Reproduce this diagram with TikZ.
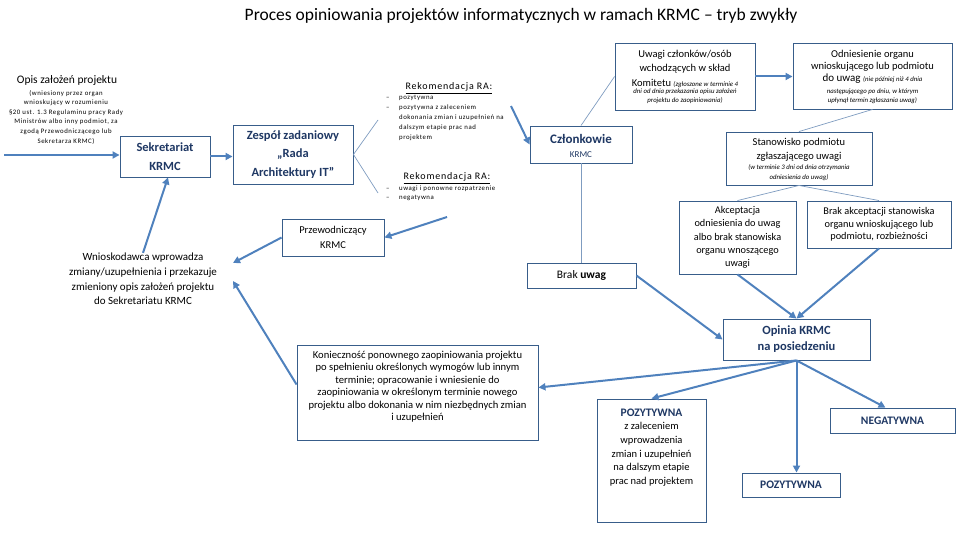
\documentclass[tikz,border=0pt]{standalone}
\usepackage{fontspec}
\setmainfont{Carlito}
\newfontfamily\spaced[LetterSpace=8]{Carlito}
\usetikzlibrary{arrows.meta}
\definecolor{boxc}{HTML}{385D8A}
\definecolor{arrc}{HTML}{4F81BD}
\definecolor{thinc}{HTML}{7F9CC0}
\definecolor{navy}{HTML}{1F3864}
\newcommand{\fsz}[2]{\fontsize{#1}{#2}\selectfont}
\begin{document}
\begin{tikzpicture}[x=1pt,y=-1pt,
  box/.style={draw=boxc, line width=0.9pt, fill=white, inner sep=0pt, align=center, text=black},
  txt/.style={inner sep=0pt, align=center, text=black},
  arr/.style={draw=arrc, line width=2pt, -{Triangle[length=7pt,width=7pt]}},
  thinln/.style={draw=thinc, line width=0.7pt},
  ]
\useasboundingbox (0,0) rectangle (960,540);

% title
\node[txt, font=\fsz{17.5}{20}] (title) at (521,16) {Proces opiniowania projektów informatycznych w ramach KRMC – tryb zwykły};

% Opis
\node[txt, font=\fsz{11.5}{13}] (opis) at (67,80) {Opis założeń projektu};
\node[txt, font=\spaced\fsz{6.8}{9.6}] (opisd) at (66,117) {(wniesiony przez organ\\wnioskujący w rozumieniu\\§20 ust. 1.3 Regulaminu pracy Rady\\Ministrów albo inny podmiot, za\\zgodą Przewodniczącego lub\\Sekretarza KRMC)};
\coordinate (start) at (4,155);

% boxes
\node[box, minimum width=90pt, minimum height=41pt, text=navy, font=\bfseries\fsz{12.5}{19}] (sek) at (165,156.5) {Sekretariat\\KRMC};
\node[box, minimum width=120pt, minimum height=59pt, text=navy, font=\bfseries\fsz{12.5}{18.5}] (zes) at (293,154.5) {Zespół zadaniowy\\„Rada\\Architektury IT”};

% Rekomendacje
\coordinate (r1) at (378,120);
\coordinate (r2) at (378,193);
\node[txt, font=\spaced\fsz{10}{11}] (rk1) at (449,88) {\underline{Rekomendacja RA:}};
\node[txt, anchor=north west, align=left, font=\spaced\fsz{6.8}{9.8}] (rl1) at (386,95.5) {\makebox[13pt][l]{–}pozytywna\\\makebox[13pt][l]{–}pozytywna z zaleceniem\\\hspace*{13pt}dokonania zmian i uzupełnień na\\\hspace*{13pt}dalszym etapie prac nad\\\hspace*{13pt}projektem};
\node[txt, font=\spaced\fsz{10}{11}] (rk2) at (447,178) {\underline{Rekomendacja RA:}};
\node[txt, anchor=north west, align=left, font=\spaced\fsz{6.8}{9}] (rl2) at (386,185.5) {\makebox[13pt][l]{–}uwagi i ponowne rozpatrzenie\\\makebox[13pt][l]{–}negatywna};
\coordinate (rk1end) at (511,106);
\coordinate (rk2end) at (447,217);

% Czlonkowie
\node[box, minimum width=102pt, minimum height=37pt] (czl) at (581,144.5) {};
\node[txt, text=navy, font=\bfseries\fsz{13}{14}] (czlt) at (581,139) {Członkowie};
\node[txt, text=navy, font=\fsz{9}{11}] (czlk) at (581,155) {KRMC};

% Uwagi
\node[box, minimum width=140pt, minimum height=67pt] (uwa) at (685,76.5) {};
\node[txt, font=\fsz{10.5}{14}] (uwat) at (685,62) {Uwagi członków/osób\\wchodzących w skład};
\node[txt, font=\fsz{10.5}{12}] (uwak) at (685,83) {Komitetu {\fsz{6.8}{8}\itshape(zgłoszone w terminie 4}};
\node[txt, font=\fsz{6.8}{9}\itshape] (uwai) at (685,96.5) {dni od dnia przekazania opisu założeń\\projektu do zaopiniowania)};

% Odniesienie
\node[box, minimum width=159pt, minimum height=66pt] (odn) at (872.5,76) {};
\node[txt, font=\fsz{10.5}{12.5}] (odnt) at (872.5,61) {Odniesienie organu\\wnioskującego lub podmiotu};
\node[txt, font=\fsz{11}{12}] (odnk) at (872.5,79) {do uwag {\fsz{6.8}{8}\itshape(nie później niż 4 dnia}};
\node[txt, font=\fsz{6.8}{9}\itshape] (odni) at (872.5,96.5) {następującego po dniu, w którym\\upłynął termin zgłaszania uwag)};

% Stanowisko
\node[box, minimum width=146pt, minimum height=53pt] (sta) at (799,158.5) {};
\node[txt, font=\fsz{10.5}{14}] (stat) at (799,150) {Stanowisko podmiotu\\zgłaszającego uwagi};
\node[txt, font=\fsz{6.8}{10}\itshape] (stai) at (799,173) {(w terminie 3 dni od dnia otrzymania\\odniesienia do uwag)};

% Akceptacja / Brak akceptacji
\node[box, minimum width=117pt, minimum height=73pt, font=\fsz{10.3}{13.3}] (akc) at (737.5,237.5) {Akceptacja\\odniesienia do uwag\\albo brak stanowiska\\organu wnoszącego\\uwagi};
\node[box, minimum width=144pt, minimum height=47pt, font=\fsz{10.3}{12.6}] (bra) at (879,224.5) {Brak akceptacji stanowiska\\organu wnioskującego lub\\podmiotu, rozbieżności};

% Brak uwag
\node[box, minimum width=109pt, minimum height=25pt, font=\fsz{11.5}{13}] (bu) at (581.5,275.5) {Brak \textbf{uwag}};

% Opinia
\node[box, minimum width=147pt, minimum height=41pt, text=navy, font=\bfseries\fsz{12.5}{16}] (opi) at (796.5,339.5) {Opinia KRMC\\na posiedzeniu};

% Przewodniczacy
\node[box, minimum width=102pt, minimum height=37pt, font=\fsz{10.5}{15}] (prz) at (333,237.5) {Przewodniczący\\KRMC};

% Wnioskodawca
\node[txt, font=\fsz{11}{14.7}] (wn) at (143,279) {Wnioskodawca wprowadza\\zmiany/uzupełnienia i przekazuje\\zmieniony opis założeń projektu\\do Sekretariatu KRMC};
\coordinate (wnA) at (233,263);
\coordinate (wnB) at (233,281);

% Koniecznosc
\node[box, minimum width=241pt, minimum height=95pt] (kon) at (417.5,392.5) {};
\node[txt, font=\fsz{10.6}{12.5}] (kont) at (417.5,386.5) {Konieczność ponownego zaopiniowania projektu\\po spełnieniu określonych wymogów lub innym\\terminie; opracowanie i wniesienie do\\zaopiniowania w określonym terminie nowego\\projektu albo dokonania w nim niezbędnych zmian\\i uzupełnień};

% Outcomes
\node[box, minimum width=109pt, minimum height=123pt] (poz1) at (651.5,460.5) {};
\node[txt, text=navy, font=\bfseries\fsz{11.5}{13}] (poz1t) at (651.5,413) {POZYTYWNA};
\node[txt, font=\fsz{10.5}{13.7}] (poz1d) at (651.5,454.5) {z zaleceniem\\wprowadzenia\\zmian i uzupełnień\\na dalszym etapie\\prac nad projektem};
\node[box, minimum width=125pt, minimum height=25pt, text=navy, font=\bfseries\fsz{11.5}{13}] (neg) at (892.5,420.5) {NEGATYWNA};
\node[box, minimum width=98pt, minimum height=24pt, text=navy, font=\bfseries\fsz{11.5}{13}] (poz2) at (791,485) {POZYTYWNA};

% connectors
\draw[arr] (start) -- (start -| sek.west);
\draw[arr] (sek.east) -- (sek.east -| zes.west);
\draw[thinln] (zes.east) -- (r1);
\draw[thinln] (zes.east) -- (r2);
\draw[arr] (rk1end) -- (czl.west);
\draw[arr] (rk2end) -- (prz.east);
\draw[thinln] (czl.north) -- (uwa.west);
\draw[arr] (uwa.east) -- (uwa.east -| odn.west);
\draw[thinln] (odn.south) -- (sta.north);
\draw[thinln] (sta.south) -- (akc.north);
\draw[thinln] (sta.south) -- (bra.north);
\draw[thinln] (czl.south) -- (czl.south |- bu.north);
\draw[arr] (akc.south) -- (opi.north);
\draw[arr] (bra.south) -- (opi.north);
\draw[arr] (bu.east) -- (opi.west);
\draw[arr] (opi.south) -- ([yshift=5pt]kon.east);
\draw[arr] (opi.south) -- (poz1.north);
\draw[arr] (opi.south) -- (opi.south |- poz2.north);
\draw[arr] (opi.south) -- ([xshift=-7pt]neg.north);
\draw[arr] (prz.west) -- (wnA);
\draw[arr] ([yshift=8pt]kon.west) -- (wnB);
\draw[arr] (wn.north) -- ([xshift=3pt]sek.south);
\end{tikzpicture}
\end{document}
